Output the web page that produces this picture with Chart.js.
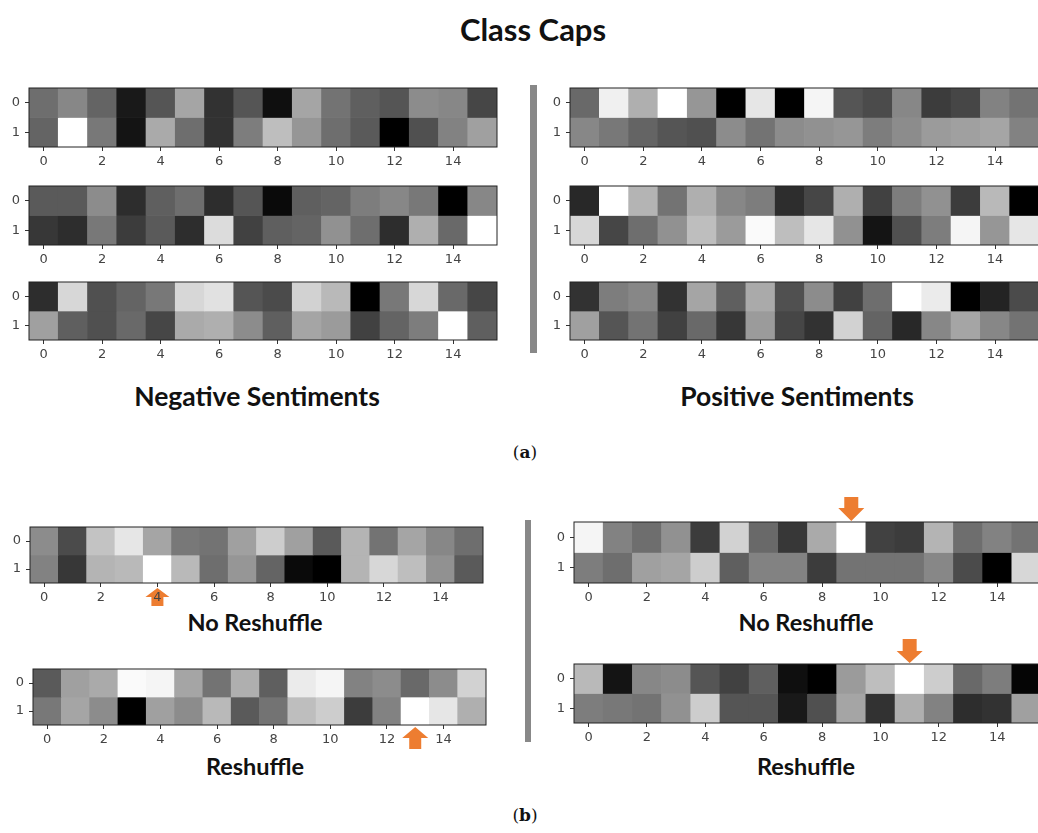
<!DOCTYPE html>
<html>
<head>
<meta charset="utf-8">
<script src="https://cdn.jsdelivr.net/npm/chart.js@4.4.0/dist/chart.umd.min.js"></script>
<style>
    body { margin: 0; width: 1038px; height: 833px; overflow: hidden; background: #fff; position: relative; font-family: Lato, sans-serif; }
    canvas { position: absolute; }
    .t { position: absolute; font-weight: bold; color: #111; transform: translate(-50%, -50%); white-space: nowrap; line-height: 1; }
    .cap { position: absolute; font-family: "DejaVu Serif", "Liberation Serif", serif; font-size: 17px; color: #111; transform: translate(-50%, -50%); line-height: 1; }
    .sep { position: absolute; background: #888; }
</style>
</head>
<body>

<div class="t" style="left:533px; top:29px; font-size:31px;">Class Caps</div>
<div class="t" style="left:257px; top:396px; font-size:26.5px;">Negative Sentiments</div>
<div class="t" style="left:797px; top:396px; font-size:26.5px;">Positive Sentiments</div>
<div class="cap" style="left:525px; top:452px;">(<b>a</b>)</div>
<div class="t" style="left:255px; top:623px; font-size:23.5px;">No Reshuffle</div>
<div class="t" style="left:255px; top:767px; font-size:23.5px;">Reshuffle</div>
<div class="t" style="left:806px; top:623px; font-size:23.5px;">No Reshuffle</div>
<div class="t" style="left:806px; top:767px; font-size:23.5px;">Reshuffle</div>
<div class="cap" style="left:525px; top:815px;">(<b>b</b>)</div>

<div class="sep" style="left:530px; top:85px; width:7px; height:268px;"></div>
<div class="sep" style="left:525px; top:520px; width:6px; height:222px;"></div>

<canvas id="neg1"></canvas>
<canvas id="neg2"></canvas>
<canvas id="neg3"></canvas>
<canvas id="pos1"></canvas>
<canvas id="pos2"></canvas>
<canvas id="pos3"></canvas>
<canvas id="noReshL"></canvas>
<canvas id="reshL"></canvas>
<canvas id="noReshR"></canvas>
<canvas id="reshR"></canvas>

<script>
// colonne e righe delle capsule
const columns = ["0","1","2","3","4","5","6","7","8","9","10","11","12","13","14","15"];
const rowLabels = [0, 1];

// valori di grigio (0 = nero, 255 = bianco)
const neg1_row0 = [110,135,100,25,85,165,50,85,15,165,115,95,85,140,135,70];
const neg1_row1 = [100,255,120,20,170,110,50,125,190,150,110,90,0,80,130,160];
const neg2_row0 = [90,90,140,45,95,110,45,85,10,95,100,125,135,120,0,135];
const neg2_row1 = [55,45,120,60,90,45,220,65,95,100,145,110,45,175,105,255];
const neg3_row0 = [45,215,80,100,120,215,225,85,75,210,185,0,120,215,105,70];
const neg3_row1 = [160,95,80,105,70,170,175,140,95,165,155,65,100,125,255,95];

const pos1_row0 = [105,240,175,255,150,0,230,0,245,85,75,135,60,70,130,115];
const pos1_row1 = [135,120,100,85,80,140,115,140,145,150,125,140,155,160,165,130];
const pos2_row0 = [40,255,180,115,175,135,125,45,70,175,65,125,145,60,185,0];
const pos2_row1 = [215,70,110,145,190,155,250,190,230,145,20,80,125,245,150,230];
const pos3_row0 = [50,125,135,50,165,95,170,80,140,65,110,255,235,0,35,75];
const pos3_row1 = [160,85,115,65,105,55,155,70,50,210,100,40,135,165,135,115];

const noReshL_row0 = [140,75,195,230,165,120,115,160,205,160,90,180,115,165,135,110];
const noReshL_row1 = [130,55,180,185,255,185,110,150,100,10,0,180,215,190,145,90];
const reshL_row0 = [90,160,170,250,245,165,115,175,95,235,245,130,140,105,140,210];
const reshL_row1 = [120,165,140,0,160,140,185,90,115,190,205,60,130,255,230,175];
const noReshR_row0 = [245,130,110,145,60,210,105,55,170,255,65,60,180,110,130,115];
const noReshR_row1 = [125,110,160,165,205,95,130,130,60,115,115,115,135,75,0,215];
const reshR_row0 = [185,20,135,140,85,65,95,15,0,155,190,255,205,105,125,5];
const reshR_row1 = [125,120,115,145,205,85,85,25,80,165,50,175,130,45,50,160];

// frecce arancioni (colonna evidenziata)
const arrowNoReshL = 4, arrowReshL = 13, arrowNoReshR = 9, arrowReshR = 11;

const Y_AXIS_W = 22, X_AXIS_H = 26, PAD_TOP = 26, PAD_RIGHT = 4;

//cornice nera attorno alla mappa
const framePlugin = {
    id: "frame",
    afterDatasetsDraw(chart) {
        let a = chart.chartArea, c = chart.ctx;
        c.save();
        c.strokeStyle = "#222";
        c.lineWidth = 1;
        c.strokeRect(a.left, a.top, a.right - a.left, a.bottom - a.top);
        c.restore();
    }
};

//freccia arancione sopra o sotto una colonna
const arrowPlugin = {
    id: "arrow",
    beforeDraw(chart, args, opts) {
        if (opts.col == null) return;
        let x = chart.scales.x.getPixelForValue(opts.col),
            a = chart.chartArea,
            c = chart.ctx,
            hw = opts.hw, sw = opts.sw, head = opts.head, len = opts.len, s, y0;
        if (opts.dir == "up") { y0 = a.bottom + opts.gap; s = 1; }
        else { y0 = a.top - opts.gap; s = -1; }
        c.save();
        c.fillStyle = "#ED7D31";
        c.beginPath();
        c.moveTo(x, y0);
        c.lineTo(x + hw, y0 + s * head);
        c.lineTo(x + sw, y0 + s * head);
        c.lineTo(x + sw, y0 + s * len);
        c.lineTo(x - sw, y0 + s * len);
        c.lineTo(x - sw, y0 + s * head);
        c.lineTo(x - hw, y0 + s * head);
        c.closePath();
        c.fill();
        c.restore();
    }
};

function grey(g) {
    return "rgb(" + g + "," + g + "," + g + ")";
}

function creaMappa(id, area, row0, row1, arrow) {
    let cv = document.getElementById(id);
    cv.style.left = (area.x - Y_AXIS_W) + "px";
    cv.style.top = (area.y - PAD_TOP) + "px";
    cv.width = area.w + Y_AXIS_W + PAD_RIGHT;
    cv.height = area.h + PAD_TOP + X_AXIS_H;

    let tickFont = { family: "DejaVu Sans", size: 13 };
    let datasets = [row0, row1].map(function (vals, r) {
        return {
            data: vals.map(() => [rowLabels[r] - 0.5, rowLabels[r] + 0.5]),
            backgroundColor: vals.map(grey),
            borderWidth: 0,
            grouped: false,
            barPercentage: 1,
            categoryPercentage: 1
        };
    });

    return new Chart(cv, {
        type: "bar",
        data: { labels: columns, datasets: datasets },
        plugins: [framePlugin, arrowPlugin],
        options: {
            responsive: false,
            animation: false,
            layout: { padding: { top: PAD_TOP, right: PAD_RIGHT } },
            plugins: {
                legend: { display: false },
                tooltip: { enabled: false },
                arrow: arrow || {}
            },
            scales: {
                x: {
                    type: "category",
                    offset: true,
                    border: { display: false },
                    grid: {
                        offset: false,
                        drawOnChartArea: false,
                        tickLength: 4,
                        color: c => c.index % 2 ? "rgba(0,0,0,0)" : "#333"
                    },
                    ticks: {
                        autoSkip: false,
                        maxRotation: 0,
                        padding: 3,
                        color: "#444",
                        font: tickFont,
                        callback: (v, i) => i % 2 ? "" : columns[i]
                    },
                    afterFit: s => { s.height = X_AXIS_H; }
                },
                y: {
                    type: "linear",
                    min: -0.5,
                    max: 1.5,
                    reverse: true,
                    border: { display: false },
                    grid: { drawOnChartArea: false, tickLength: 4, color: "#333" },
                    ticks: { padding: 5, color: "#444", font: tickFont },
                    afterBuildTicks: s => { s.ticks = rowLabels.map(v => ({ value: v })); },
                    afterFit: s => { s.width = Y_AXIS_W; }
                }
            }
        }
    });
}

creaMappa("neg1", { x: 29, y: 88, w: 468, h: 59 }, neg1_row0, neg1_row1);
creaMappa("neg2", { x: 29, y: 186, w: 468, h: 59 }, neg2_row0, neg2_row1);
creaMappa("neg3", { x: 29, y: 282, w: 468, h: 58 }, neg3_row0, neg3_row1);
creaMappa("pos1", { x: 570, y: 88, w: 469, h: 59 }, pos1_row0, pos1_row1);
creaMappa("pos2", { x: 570, y: 186, w: 469, h: 59 }, pos2_row0, pos2_row1);
creaMappa("pos3", { x: 570, y: 282, w: 469, h: 58 }, pos3_row0, pos3_row1);
creaMappa("noReshL", { x: 30, y: 527, w: 453, h: 56 }, noReshL_row0, noReshL_row1,
    { col: arrowNoReshL, dir: "up", gap: 5, hw: 12, sw: 6, head: 9, len: 18 });
creaMappa("reshL", { x: 33, y: 669, w: 453, h: 56 }, reshL_row0, reshL_row1,
    { col: arrowReshL, dir: "up", gap: 2, hw: 13, sw: 6, head: 11, len: 22 });
creaMappa("noReshR", { x: 574, y: 522, w: 467, h: 61 }, noReshR_row0, noReshR_row1,
    { col: arrowNoReshR, dir: "down", gap: 1, hw: 13, sw: 7, head: 13, len: 24 });
creaMappa("reshR", { x: 574, y: 664, w: 467, h: 59 }, reshR_row0, reshR_row1,
    { col: arrowReshR, dir: "down", gap: 1, hw: 13, sw: 7, head: 12, len: 24 });
</script>
</body>
</html>
